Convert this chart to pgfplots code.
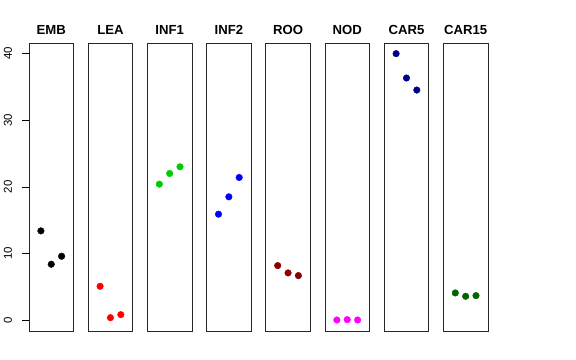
\documentclass[border=0pt]{standalone}
\usepackage{fontspec}
\setmainfont{Liberation Sans}
\usepackage{pgfplots}
\pgfplotsset{compat=1.18}
\definecolor{cgreen}{RGB}{0,205,0}
\definecolor{cdarkred}{RGB}{139,0,0}
\definecolor{cnavy}{RGB}{0,0,139}
\definecolor{cdkgreen}{RGB}{0,100,0}
\definecolor{cmag}{RGB}{255,0,255}
\definecolor{cred}{RGB}{255,0,0}
\definecolor{cblue}{RGB}{0,0,255}
\begin{document}
\begin{tikzpicture}
\path[use as bounding box] (0bp,0bp) rectangle (576bp,360bp);
\pgfplotsset{panel/.style={scale only axis, width=44.5bp, height=287.7bp,
  xmin=-0.15, xmax=4.15, ymin=-1.6, ymax=41.5, xtick=\empty, ytick=\empty,
  axis line style={line width=0.8bp, black!85},
  title style={font=\bfseries\fontsize{13.2}{15}\selectfont, at={(0.5,1)}, anchor=base, yshift=3.3bp},
  anchor=south west, clip=false}}
\pgfplotsset{pts/.style={only marks, mark=*, mark size=3.3bp, color=#1, mark options={draw=#1, fill=#1}}}
\begin{axis}[panel, at={(29bp,29bp)}, title={EMB},
  ytick={0,10,20,30,40}, ytick pos=left, tick align=outside, major tick length=7bp,
  tick style={black, line width=0.6bp},
  yticklabel style={rotate=90, anchor=south, inner sep=0pt, font=\fontsize{11.5}{13}\selectfont},
  yticklabel shift=9.7bp, /pgf/number format/assume math mode=true]
\addplot[pts=black] coordinates {(1,13.4) (2,8.4) (3,9.6)};
\end{axis}
\begin{axis}[panel, at={(88.2bp,29bp)}, title={LEA}]
\addplot[pts=cred] coordinates {(1,5.1) (2,0.4) (3,0.85)};
\end{axis}
\begin{axis}[panel, at={(147.4bp,29bp)}, title={INF1}]
\addplot[pts=cgreen] coordinates {(1,20.4) (2,22.0) (3,23.0)};
\end{axis}
\begin{axis}[panel, at={(206.6bp,29bp)}, title={INF2}]
\addplot[pts=cblue] coordinates {(1,15.9) (2,18.5) (3,21.4)};
\end{axis}
\begin{axis}[panel, at={(265.8bp,29bp)}, title={ROO}]
\addplot[pts=cdarkred] coordinates {(1,8.2) (2,7.1) (3,6.7)};
\end{axis}
\begin{axis}[panel, at={(325bp,29bp)}, title={NOD}]
\addplot[pts=cmag] coordinates {(1,0.05) (2,0.1) (3,0.05)};
\end{axis}
\begin{axis}[panel, at={(384.2bp,29bp)}, title={CAR5}]
\addplot[pts=cnavy] coordinates {(1,39.95) (2,36.3) (3,34.5)};
\end{axis}
\begin{axis}[panel, at={(443.4bp,29bp)}, title={CAR15}]
\addplot[pts=cdkgreen] coordinates {(1,4.1) (2,3.6) (3,3.7)};
\end{axis}
\end{tikzpicture}
\end{document}
